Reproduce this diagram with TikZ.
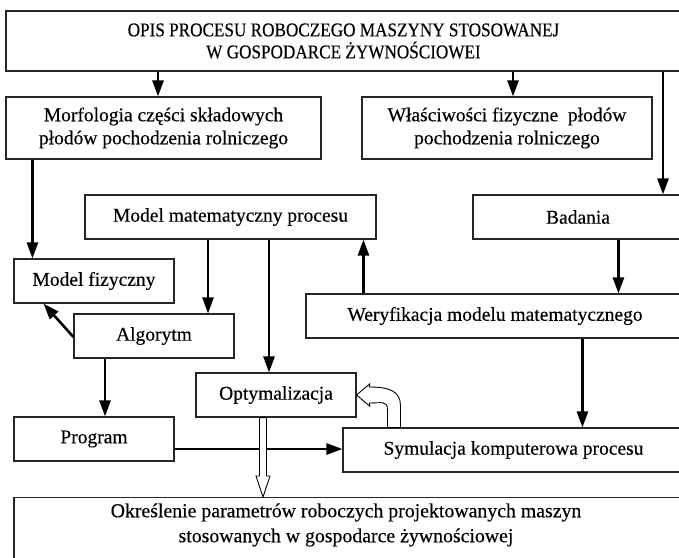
\documentclass[tikz,border=0pt]{standalone}
\usepackage{fontspec}
\setmainfont[FakeBold=0.3]{Liberation Serif}
\newfontfamily\narrowserif[FakeStretch=0.88,FakeBold=0.3]{Liberation Serif}
\usetikzlibrary{arrows.meta,calc}
\begin{document}
\begin{tikzpicture}[x=1pt,y=-1pt,
  box/.style={draw=black!85, line width=1.1pt, inner sep=0pt, align=center,
              font=\fontsize{19.5}{23}\selectfont},
  txt/.style={inner sep=0pt, align=center, font=\fontsize{19.8}{25}\selectfont},
  arr/.style={line width=2.6pt, -{Triangle[width=11pt,length=16pt]}},
  hollow/.style={draw=black, line width=0.9pt, fill=white, line join=miter}]
\useasboundingbox (0,0) rectangle (679,557);
\clip (0,0) rectangle (679,557);

% boxes
\node[box, minimum width=675pt, minimum height=60pt, font=\narrowserif\fontsize{19.5}{22}\selectfont]
  (top) at (343.5,41) {OPIS PROCESU ROBOCZEGO MASZYNY STOSOWANEJ\\W GOSPODARCE ŻYWNOŚCIOWEI};
\node[box, minimum width=315pt, minimum height=62pt] (morf) at (163.5,128)
  {Morfologia części składowych\\płodów pochodzenia rolniczego};
\node[box, minimum width=290pt, minimum height=62pt] (wlas) at (507,128)
  {Właściwości fizyczne\ \ płodów\\pochodzenia rolniczego};
\node[box, minimum width=291pt, minimum height=44pt] (modmat) at (230.5,217) {Model matematyczny procesu};
\node[box, minimum width=210pt, minimum height=44pt] (bad) at (578,217) {Badania};
\node[box, minimum width=160pt, minimum height=44pt] (modfiz) at (94,281) {Model fizyczny};
\node[box, minimum width=378pt, minimum height=44pt] (wer) at (495,316) {Weryfikacja modelu matematycznego};
\node[box, minimum width=160pt, minimum height=44pt] (alg) at (154,336) {Algorytm};
\node[box, minimum width=160pt, minimum height=44pt] (opt) at (276,395) {Optymalizacja};
\node[box, minimum width=160pt, minimum height=44pt] (prog) at (94,439) {Program};
\node[box, minimum width=341pt, minimum height=44pt] (sym) at (513.5,450) {Symulacja komputerowa procesu};
\node[box, minimum width=666pt, minimum height=80pt, anchor=north] (fin) at (347,497) {};
\node[txt] (fintxt) at (346,525)
  {Określenie parametrów roboczych projektowanych maszyn\\stosowanych w gospodarce żywnościowej};

% connector anchors
\coordinate (xmorf) at ($(morf.north)+(-5.5,0)$);
\coordinate (xwlas) at ($(wlas.north)+(6,0)$);
\coordinate (xbad) at ($(bad.north)+(85,0)$);
\coordinate (xfiz) at ($(modfiz.north west)+(19,0)$);
\coordinate (xalg) at ($(alg.north)+(54,0)$);
\coordinate (xopt) at ($(opt.north)+(-7,0)$);
\coordinate (xwer) at ($(wer.north west)+(58,0)$);
\coordinate (xwer2) at ($(wer.north west)+(313,0)$);
\coordinate (xsym) at ($(sym.north west)+(240,0)$);
\coordinate (xprog) at ($(prog.north)+(11,0)$);
\coordinate (fizbot) at ($(modfiz.south west)+(30,0)$);
\coordinate (algleft) at ($(alg.west)+(0,1)$);

% arrows
\draw[arr] (top.south -| xmorf) -- (xmorf);
\draw[arr] (top.south -| xwlas) -- (xwlas);
\draw[arr] (top.south -| xbad) -- (xbad);
\draw[arr] (morf.south -| xfiz) -- (xfiz);
\draw[arr] (modmat.south -| xalg) -- (xalg);
\draw[arr] (modmat.south -| xopt) -- (xopt);
\draw[arr] (xwer) -- (modmat.south -| xwer);
\draw[arr] (bad.south -| xwer2) -- (xwer2);
\draw[arr] (wer.south -| xsym) -- (xsym);
\draw[arr] (algleft) -- (fizbot);
\draw[arr] (alg.south -| xprog) -- (xprog);
\draw[arr] ($(sym.west -| prog.east)+(0,-1)$) -- ($(sym.west)+(0,-1)$);

% hollow arrow: optimisation result to the final box
\path[hollow] ($(opt.south)+(-16.5,0)$) -- ($(opt.south)+(-9.5,0)$)
  -- ($(fin.north)+(-80.5,-21)$) -- ($(fin.north)+(-77,-21)$)
  -- ($(fin.north)+(-84,0)$) -- ($(fin.north)+(-91,-21)$)
  -- ($(fin.north)+(-87.5,-21)$) -- cycle;

% curved hollow arrow: simulation feeding back to optimisation
\path[hollow] ($(sym.north west)+(58,0)$) -- ++(0,-22)
  .. controls ++(0,-14) and ++(20,0) .. ($(opt.east)+(13,-8)$)
  -- ++(0,-3) -- (opt.east) -- ($(opt.east)+(13,11)$) -- ++(0,-3)
  .. controls ++(12,0) and ++(0,-9) .. ($(sym.north west)+(45,-18)$)
  -- ($(sym.north west)+(45,0)$) -- cycle;
\end{tikzpicture}
\end{document}
